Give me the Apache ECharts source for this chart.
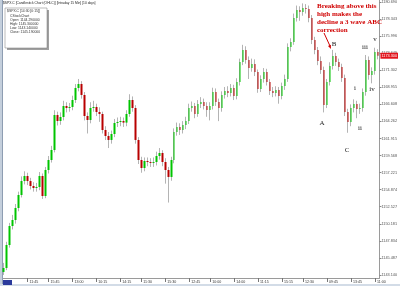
<!DOCTYPE html>
<html><head><meta charset="utf-8">
<script src="https://cdn.jsdelivr.net/npm/echarts@6/dist/echarts.min.js"></script>
<style>html,body{margin:0;padding:0;background:#fff}#c{width:400px;height:286px}</style>
</head><body><div id="c"></div>
<script>
const opens = [1143.55,1144.10,1147.26,1149.87,1150.70,1152.35,1154.14,1156.06,1156.75,1156.06,
 1155.38,1155.10,1155.24,1156.75,1154.00,1157.58,1158.95,1160.33,1165.14,1164.32,
 1164.87,1166.38,1166.11,1166.25,1167.21,1168.86,1169.41,1167.90,1165.01,1164.46,
 1166.11,1166.25,1165.56,1165.28,1163.08,1162.26,1161.71,1162.53,1164.04,1164.18,
 1164.32,1164.10,1165.28,1167.21,1166.11,1161.71,1158.95,1157.85,1158.82,1158.68,
 1158.55,1158.68,1159.50,1159.92,1158.68,1157.58,1156.62,1158.95,1162.81,1163.49,
 1163.08,1163.77,1164.32,1166.11,1166.38,1165.28,1166.66,1166.93,1166.38,1165.83,
 1166.38,1168.31,1166.93,1166.11,1167.90,1168.45,1168.17,1168.86,1167.76,1169.68,
 1172.44,1174.09,1172.71,1171.61,1172.16,1171.06,1168.72,1170.10,1171.06,1169.68,
 1168.45,1168.17,1168.58,1167.76,1169.13,1170.10,1174.50,1175.19,1178.49,1179.59,
 1179.31,1179.86,1179.73,1178.49,1175.46,1174.09,1172.57,1171.34,1166.52,1169.68,
 1171.89,1173.26,1172.44,1171.75,1170.24,1165.56,1164.18,1166.11,1166.66,1165.97,
 1166.11,1168.31,1172.71,1170.65,1171.20,1173.81];
const closes = [1144.10,1147.26,1149.87,1150.70,1152.35,1154.14,1156.06,1156.75,1156.06,1155.38,
 1155.10,1155.24,1156.75,1154.00,1157.58,1158.95,1160.33,1165.14,1164.32,1164.87,
 1166.38,1166.11,1166.25,1167.21,1168.86,1169.41,1167.90,1165.01,1164.46,1166.11,
 1166.25,1165.56,1165.28,1163.08,1162.26,1161.71,1162.53,1164.04,1164.18,1164.32,
 1164.10,1165.28,1167.21,1166.11,1161.71,1158.95,1157.85,1158.82,1158.68,1158.55,
 1158.68,1159.50,1159.92,1158.68,1157.58,1156.62,1158.95,1162.81,1163.49,1163.08,
 1163.77,1164.32,1166.11,1166.38,1165.28,1166.66,1166.93,1166.38,1165.83,1166.38,
 1168.31,1166.93,1166.11,1167.90,1168.45,1168.17,1168.86,1167.76,1169.68,1172.44,
 1174.09,1172.71,1171.61,1172.16,1171.06,1168.72,1170.10,1171.06,1169.68,1168.45,
 1168.17,1168.58,1167.76,1169.13,1170.10,1174.50,1175.19,1178.49,1179.59,1179.31,
 1179.86,1179.73,1178.49,1175.46,1174.09,1172.57,1171.34,1166.52,1169.68,1171.89,
 1173.26,1172.44,1171.75,1170.24,1165.56,1164.18,1166.11,1166.66,1165.97,1166.11,
 1168.31,1172.71,1170.65,1171.20,1173.81,1173.30];
const highs = [1144.80,1147.70,1150.30,1151.40,1152.90,1154.60,1156.70,1157.40,1157.20,1156.50,
 1155.90,1155.80,1157.30,1157.10,1158.00,1159.50,1160.90,1165.80,1165.60,1165.50,
 1167.10,1166.90,1166.80,1167.80,1169.40,1170.10,1169.80,1168.30,1165.50,1166.90,
 1167.10,1166.70,1166.20,1165.60,1163.60,1162.80,1163.00,1164.60,1164.80,1164.90,
 1164.80,1165.80,1168.00,1167.70,1166.50,1162.10,1159.40,1159.30,1159.30,1159.20,
 1159.30,1160.10,1160.60,1160.30,1159.20,1158.00,1159.40,1163.30,1164.10,1164.00,
 1164.30,1164.90,1166.70,1167.00,1166.80,1167.20,1167.60,1167.40,1166.90,1166.90,
 1168.90,1168.80,1167.40,1168.40,1169.00,1169.10,1169.40,1169.30,1170.20,1172.90,
 1174.80,1174.60,1173.20,1172.90,1172.80,1171.40,1170.60,1171.60,1171.50,1170.10,
 1169.00,1169.10,1169.00,1169.60,1170.70,1175.00,1175.70,1179.10,1180.20,1180.10,
 1180.50,1180.40,1180.20,1178.90,1175.90,1174.50,1173.20,1171.80,1170.10,1172.40,
 1174.10,1173.70,1172.90,1172.20,1170.70,1166.00,1166.60,1167.30,1167.10,1166.70,
 1168.80,1173.40,1173.20,1171.70,1174.40,1174.20];
const lows = [1143.14,1143.80,1146.90,1149.40,1150.20,1151.90,1153.80,1155.60,1155.50,1154.90,
 1154.60,1154.60,1154.80,1153.60,1153.70,1157.10,1158.60,1160.00,1163.70,1163.80,
 1164.40,1165.50,1165.60,1165.80,1166.80,1168.40,1167.40,1164.40,1162.60,1164.00,
 1165.60,1165.00,1164.20,1162.60,1161.70,1160.60,1161.20,1162.10,1163.50,1163.60,
 1163.50,1163.60,1164.90,1165.60,1161.20,1158.40,1157.20,1157.40,1158.10,1158.00,
 1158.00,1158.20,1159.00,1158.10,1155.70,1153.10,1156.10,1158.50,1162.30,1162.40,
 1162.60,1163.20,1163.90,1165.60,1164.70,1164.90,1166.10,1165.90,1164.90,1164.40,
 1165.90,1166.40,1164.30,1165.60,1167.40,1167.60,1167.70,1167.20,1167.30,1169.20,
 1172.00,1172.20,1170.10,1171.10,1170.50,1168.20,1168.30,1169.60,1169.20,1167.90,
 1167.60,1167.70,1166.70,1167.30,1168.60,1169.70,1173.90,1174.80,1178.00,1178.10,
 1178.80,1179.10,1177.90,1174.90,1173.50,1172.00,1170.80,1165.50,1166.10,1169.20,
 1171.40,1171.90,1171.20,1169.70,1165.00,1162.70,1163.60,1165.50,1164.70,1165.30,
 1165.60,1167.80,1170.00,1169.50,1170.70,1172.80];
const xTickBars = [8,15,23,31,39,46,54,62,69,77,85,93,100,108,116,124];
const xTickLabels = ['11:45','15:45','13:00','10:15','14:15','11:30','15:30','12:45','10:00','14:00','11:15','15:15','12:30','09:45','13:45','11:00'];
const yTickValues = [1143.140,1145.487,1147.834,1150.181,1152.527,1154.874,1157.221,1159.568,1161.915,1164.262,1166.608,1168.955,1171.302,1173.649,1175.996,1178.343,1180.690];
const headerText = '$SPX.C [Candlestick Chart (OHLC)] [Intraday 15 Min] [10 days]';
const infoLines = ['$SPX.C [14:30 [0:15]]','CStockChart','Open: 1144.290000','High: 1145.300000','Low: 1143.140000','Close: 1145.190000'];
const noteText = 'Breaking above this\nhigh makes the\ndecline a 3 wave ABC\ncorrection';
const waveNames = ['B','A','C','i','ii','iii','iv','v'];

const cats = opens.map((_, i) => String(i));
const wickData = opens.map((o, i) => [o, closes[i], lows[i], highs[i]]);
const bodyData = opens.map((o, i) => [o, closes[i], Math.min(o, closes[i]), Math.max(o, closes[i])]);
const lastClose = closes[closes.length - 1];

const wavePos = {B:[334,44],A:[322,123],C:[347,150],i:[355,88],ii:[360,128],iii:[365,47],iv:[372,89],v:[375,39]};
const sans = '"Liberation Sans", Arial, sans-serif';
const serif = '"Liberation Serif", "DejaVu Serif", serif';

const graphics = [
  {type:'rect', z:1, shape:{x:0,y:0,width:2,height:286}, style:{fill:'#c4cfdc'}},
  {type:'line', z:1, shape:{x1:2.5,y1:0,x2:2.5,y2:286}, style:{stroke:'#8e9db2', lineWidth:1}},
  {type:'rect', z:1, shape:{x:0,y:284,width:400,height:2}, style:{fill:'#d3dce7'}},
  {type:'rect', z:5, shape:{x:3,y:280,width:9,height:5}, style:{fill:'#2b3a9c'}},
  {type:'text', z:100, x:3, y:1.5, style:{text:headerText, fontSize:3.3, fontFamily:sans, fill:'#222'}},
  {type:'rect', z:100, shape:{x:7,y:10,width:42,height:40}, style:{fill:'#a0a0a0'}},
  {type:'rect', z:101, shape:{x:5,y:8,width:42,height:40}, style:{fill:'#fff', stroke:'#777', lineWidth:0.5}},
  {type:'text', z:102, x:22, y:5, style:{text:noteText, fontSize:7, fontWeight:'bold', fontFamily:serif, fill:'#d00000', lineHeight:8}},
  {type:'line', z:102, shape:{x1:324,y1:33,x2:330,y2:46}, style:{stroke:'#d00000', lineWidth:1}},
  {type:'polygon', z:102, shape:{points:[[331,49],[330.8,44.7],[328.0,45.9]]}, style:{fill:'#d00000'}}
];
graphics[7].x = 317; graphics[7].y = 2;
infoLines.forEach((t, k) => {
  graphics.push({type:'text', z:102, x: k === 0 ? 7 : 10, y: 10 + k * 4.2,
    style:{text:t, fontSize:3.4, fontFamily:sans, fill:'#333'}});
});
waveNames.forEach(n => {
  graphics.push({type:'text', z:102, x:wavePos[n][0], y:wavePos[n][1],
    style:{text:n, fontSize:7, fontFamily:serif, fill:'#222', align:'center', verticalAlign:'middle'}});
});

const chart = echarts.init(document.getElementById('c'), null, {renderer:'canvas', devicePixelRatio:1});
chart.setOption({
  animation:false,
  backgroundColor:'#fff',
  textStyle:{fontFamily:sans},
  grid:{left:2, right:19, top:0, bottom:8, containLabel:false},
  xAxis:{type:'category', data:cats, boundaryGap:true,
    axisLine:{show:true, lineStyle:{color:'#9a9a9a', width:1}},
    axisTick:{show:true, alignWithLabel:true, length:4, interval:(i) => xTickBars.includes(i), lineStyle:{color:'#777'}},
    axisLabel:{show:true, interval:(i) => xTickBars.includes(i), formatter:(v, i) => xTickLabels[xTickBars.indexOf(i)] || '',
      align:'left', fontSize:3.6, color:'#333', margin:2, padding:[0,0,0,2]},
    splitLine:{show:false}},
  yAxis:{type:'value', position:'right', min:1142.72, max:1180.965, scale:true,
    axisLine:{show:true, lineStyle:{color:'#9a9a9a', width:1}},
    axisTick:{show:true, customValues:yTickValues, length:2, lineStyle:{color:'#888'}},
    axisLabel:{show:true, customValues:yTickValues, formatter:(v) => v.toFixed(3), fontSize:3.8, color:'#555', margin:2},
    splitLine:{show:false}},
  series:[
    {type:'candlestick', data:wickData, barWidth:1, silent:true,
      itemStyle:{color:'#b4b4b4', color0:'#b4b4b4', borderColor:'#b4b4b4', borderColor0:'#b4b4b4', borderWidth:1}},
    {type:'candlestick', data:bodyData, barWidth:2, silent:true,
      itemStyle:{color:'#00c400', color0:'#b80000', borderColor:'#00c400', borderColor0:'#b80000', borderWidth:0},
      markLine:{silent:true, symbol:['none','none'], animation:false,
        lineStyle:{color:'rgba(0,0,0,0)', width:0},
        label:{show:true, position:'end', distance:1, formatter:lastClose.toFixed(3),
          backgroundColor:'#e2141c', color:'#fff', fontSize:3.8, padding:[1,1,1,1]},
        data:[{yAxis:lastClose}]}}
  ],
  graphic:graphics
});
</script></body></html>
